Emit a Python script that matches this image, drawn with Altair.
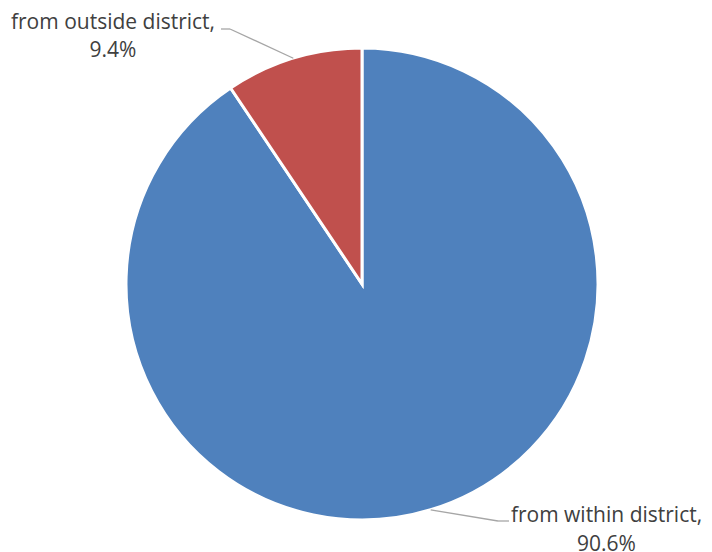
import math
import altair as alt
import pandas as pd

categories = ["from within district", "from outside district"]
values = [90.6, 9.4]
colors = ["#4F81BD", "#C0504D"]

df = pd.DataFrame({"category": categories, "value": values, "idx": list(range(len(categories)))})

W, H = 696, 544
CX, CY, R = 354, 276, 236

base = alt.Chart(df)

pie = base.mark_arc(outerRadius=R, stroke="white", strokeWidth=3).encode(
    theta=alt.Theta("value:Q", stack=True),
    order=alt.Order("idx:Q"),
    color=alt.Color("category:N", scale=alt.Scale(domain=categories, range=colors), legend=None),
    x=alt.value(CX),
    y=alt.value(CY),
)

# slice mid-angle points on the rim (computed from data)
total = sum(values)
mids = []
cum = 0.0
for v in values:
    a = 2 * math.pi * (cum + v / 2) / total
    mids.append((CX + R * math.sin(a), CY - R * math.cos(a)))
    cum += v

# label layout (elbow, end, text anchor) per category
layout = {
    "from outside district": {"elbow": (222, 21), "end": (213, 21), "text": (105, 20.5)},
    "from within district": {"elbow": (490, 513), "end": (501, 513), "text": (598.5, 514)},
}

layers = [pie]
for i, cat in enumerate(categories):
    L = layout[cat]
    mx, my = mids[i]
    ex, ey = L["elbow"]
    nx, ny = L["end"]
    sub = base.transform_filter(alt.datum.category == cat)
    seg1 = sub.mark_rule(color="#A6A6A6", strokeWidth=1.3).encode(
        x=alt.value(mx), y=alt.value(my), x2=alt.value(ex), y2=alt.value(ey))
    seg2 = sub.mark_rule(color="#A6A6A6", strokeWidth=1.3).encode(
        x=alt.value(ex), y=alt.value(ey), x2=alt.value(nx), y2=alt.value(ny))
    txt = sub.transform_calculate(
        label=alt.datum.category + ",\n" + alt.expr.format(alt.datum.value / 100, ".1%")
    ).mark_text(align="center", baseline="alphabetic", lineBreak="\n", fontSize=21,
                lineHeight=28.5, font="Open Sans", color="#404040").encode(
        x=alt.value(L["text"][0]), y=alt.value(L["text"][1]), text="label:N")
    layers += [seg1, seg2, txt]

chart = alt.layer(*layers).properties(
    width=W, height=H, autosize=alt.AutoSizeParams(type="none"), padding=0
).configure_view(stroke=None)

chart.save("out.html", embed_options={"renderer": "svg", "actions": False})
